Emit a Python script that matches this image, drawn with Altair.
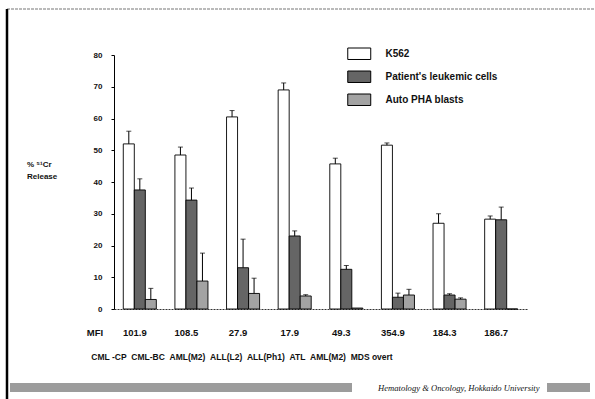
import altair as alt
import pandas as pd

# ---- data ----
categories = ["CML -CP", "CML-BC", "AML(M2)", "ALL(L2)", "ALL(Ph1)", "ATL", "AML(M2)", "MDS overt"]
mfi = ["101.9", "108.5", "27.9", "17.9", "49.3", "354.9", "184.3", "186.7"]
series = ["K562", "Patient's leukemic cells", "Auto PHA blasts"]

k562 = [52.0, 48.5, 60.5, 69.0, 45.7, 51.6, 27.0, 28.3]
k562_sd = [4.0, 2.5, 2.0, 2.2, 1.8, 0.7, 3.0, 1.0]
patient = [37.5, 34.3, 13.0, 23.0, 12.5, 3.7, 4.4, 28.1]
patient_sd = [3.5, 3.8, 9.0, 1.6, 1.2, 1.3, 0.4, 4.0]
auto = [3.0, 8.8, 4.9, 4.1, 0.3, 4.4, 3.1, 0.0]
auto_sd = [3.5, 8.8, 4.8, 0.4, 0.0, 1.8, 0.4, 0.0]

y_ticks = [0, 10, 20, 30, 40, 50, 60, 70, 80]

fills = ["#ffffff", "#656565", "#a3a3a3"]
FONT = "Liberation Sans"

rows = []
for vals, sds, s in [(k562, k562_sd, series[0]), (patient, patient_sd, series[1]), (auto, auto_sd, series[2])]:
    for i, (v, sd) in enumerate(zip(vals, sds)):
        rows.append({"idx": i, "cat": categories[i], "series": s, "value": v,
                     "sd": sd, "top": v + sd})
df = pd.DataFrame(rows)
cat_df = pd.DataFrame({"idx": list(range(len(categories))), "cat": categories, "mfi": mfi})
one = pd.DataFrame({"a": [0]})

W, H = 413, 254

x_axis = alt.Axis(labels=False, ticks=False, domain=True, domainColor="#333",
                  domainDash=[2, 1], domainWidth=1, grid=False, title=None)
x_scale = alt.Scale(paddingInner=0.36, paddingOuter=0.18)
xoff = alt.XOffset("series:N", sort=series, scale=alt.Scale(paddingInner=0, paddingOuter=0))
y_scale = alt.Scale(domain=[0, 80], nice=False)
y_axis = alt.Axis(values=y_ticks, tickCount=9, grid=False, tickSize=3, tickColor="black",
                  domainColor="black", labelPadding=9, labelFont=FONT,
                  labelOverlap=False, title=None,
                  labelFontSize=8, labelFontWeight="bold", labelColor="#111")

bars = alt.Chart(df).mark_bar(stroke="black", strokeWidth=0.9).encode(
    x=alt.X("idx:O", scale=x_scale, axis=x_axis),
    xOffset=xoff,
    y=alt.Y("value:Q", scale=y_scale, axis=y_axis),
    fill=alt.Fill("series:N", sort=series,
                  scale=alt.Scale(domain=series, range=fills),
                  legend=alt.Legend(orient="none", legendX=238.75, legendY=-7.75, title=None,
                                    padding=0,
                                    symbolType="M-2,-1H2V1H-2Z", symbolSize=132,
                                    symbolStrokeColor="black", symbolStrokeWidth=1,
                                    symbolOpacity=1,
                                    labelOffset=19.75, rowPadding=6,
                                    labelFont=FONT, labelFontSize=10,
                                    labelFontWeight="bold", labelColor="#111")),
)

err_filter = alt.datum.sd > 0
rules = alt.Chart(df).transform_filter(err_filter).mark_rule(color="black", strokeWidth=1).encode(
    x=alt.X("idx:O", scale=x_scale, axis=x_axis), xOffset=xoff,
    y=alt.Y("value:Q", scale=y_scale, axis=y_axis), y2="top:Q")
caps = alt.Chart(df).transform_filter(err_filter).mark_tick(
    color="black", thickness=1, size=5, orient="horizontal").encode(
    x=alt.X("idx:O", scale=x_scale, axis=x_axis), xOffset=xoff,
    y=alt.Y("top:Q", scale=y_scale, axis=y_axis))

mfi_text = alt.Chart(cat_df).mark_text(font=FONT, fontSize=9.5, fontWeight="bold",
                                       color="#111", dx=-5, baseline="middle").encode(
    x=alt.X("idx:O", scale=x_scale, axis=x_axis), y=alt.value(278), text="mfi:N")
mfi_label = alt.Chart(one).mark_text(font=FONT, fontSize=9.5, fontWeight="bold",
                                     color="#111", baseline="middle").encode(
    x=alt.value(-19), y=alt.value(278), text=alt.value("MFI"))

# category names are printed as one compact row under the MFI values
cat_row = "\u00a0\u00a0".join(categories)
cat_text = alt.Chart(one).mark_text(font=FONT, fontSize=8.5, fontWeight="bold",
                                    color="#111", baseline="middle", align="center").encode(
    x=alt.value(128), y=alt.value(302), text=alt.value(cat_row))

ytitle = alt.Chart(one).mark_text(font=FONT, fontSize=8, fontWeight="bold", color="#111",
                                  align="left", baseline="top", lineBreak="\n",
                                  lineHeight=12).encode(
    x=alt.value(-87), y=alt.value(106), text=alt.value("% \u2075\u00b9Cr\nRelease"))

top_line = alt.Chart(one).mark_rule(color="#777", strokeWidth=1.2, strokeDash=[3, 1]).encode(
    x=alt.value(-107), x2=alt.value(481), y=alt.value(-46))
left_line = alt.Chart(one).mark_rule(color="black", strokeWidth=2.5).encode(
    x=alt.value(-107), y=alt.value(-46), y2=alt.value(344))
band1 = alt.Chart(one).mark_rect(color="#9c9c9c").encode(
    x=alt.value(-104), x2=alt.value(238), y=alt.value(328), y2=alt.value(337))
band2 = alt.Chart(one).mark_rect(color="#9c9c9c").encode(
    x=alt.value(433), x2=alt.value(476), y=alt.value(328), y2=alt.value(337))
footer = alt.Chart(one).mark_text(font="Liberation Serif", fontSize=8.6, fontStyle="italic",
                                  color="#111", align="left", baseline="middle").encode(
    x=alt.value(264), y=alt.value(332.5),
    text=alt.value("Hematology & Oncology, Hokkaido University"))

chart = alt.layer(bars, rules, caps, mfi_text, mfi_label, cat_text, ytitle,
                  top_line, left_line, band1, band2, footer).properties(
    width=W, height=H,
    autosize=alt.AutoSizeParams(type="none"),
    padding={"left": 114, "top": 55, "right": 68, "bottom": 90},
    background="white",
).configure_view(stroke=None)

chart.save("out.html", embed_options={"renderer": "svg", "actions": False})
